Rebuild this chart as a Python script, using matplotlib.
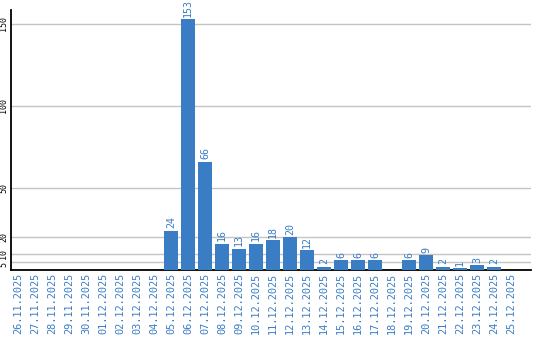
import matplotlib
matplotlib.use("Agg")
import matplotlib.pyplot as plt

dates = ["26.11.2025", "27.11.2025", "28.11.2025", "29.11.2025", "30.11.2025",
         "01.12.2025", "02.12.2025", "03.12.2025", "04.12.2025", "05.12.2025",
         "06.12.2025", "07.12.2025", "08.12.2025", "09.12.2025", "10.12.2025",
         "11.12.2025", "12.12.2025", "13.12.2025", "14.12.2025", "15.12.2025",
         "16.12.2025", "17.12.2025", "18.12.2025", "19.12.2025", "20.12.2025",
         "21.12.2025", "22.12.2025", "23.12.2025", "24.12.2025", "25.12.2025"]
counts = [0, 0, 0, 0, 0,
          0, 0, 0, 0, 24,
          153, 66, 16, 13, 16,
          18, 20, 12, 2, 6,
          6, 6, 0, 6, 9,
          2, 1, 3, 2, 0]
y_ticks = [5, 10, 20, 50, 100, 150]

blue = "#3b7dc4"
mono = "DejaVu Sans Mono"

fig = plt.figure(figsize=(5.4, 3.4), dpi=100)
ax = fig.add_axes([11 / 540, 1 - 270 / 340, 520 / 540, 260 / 340])

x = list(range(len(dates)))
ax.bar(x, counts, width=0.82, color=blue, zorder=3)

# value labels above the bars
for i, v in enumerate(counts):
    if v > 0:
        ax.text(i, v + 1.5, str(v), rotation=90, ha="center", va="bottom",
                color=blue, fontsize=7.2, family=mono)

ax.set_xlim(-0.41, 30.18)
ax.set_ylim(0, 158.5)

ax.set_yticks(y_ticks)
ax.set_yticklabels([str(t) for t in y_ticks], rotation=90, va="center",
                   fontsize=6, family=mono, color="black")
# push the "5" label down so it doesn't run into "10"
ax.get_yticklabels()[0].set_va("top")
ax.set_xticks(x)
ax.set_xticklabels(dates, rotation=90, va="top", ha="center",
                   fontsize=7.4, family=mono, color=blue)
ax.tick_params(axis="both", length=0, pad=2)
ax.yaxis.grid(True, color="#c4c4c4", linewidth=1, zorder=0)

for s in ["top", "right"]:
    ax.spines[s].set_visible(False)
ax.spines["left"].set_linewidth(1.3)
ax.spines["bottom"].set_linewidth(1.3)

fig.savefig("out.png", dpi=100)
